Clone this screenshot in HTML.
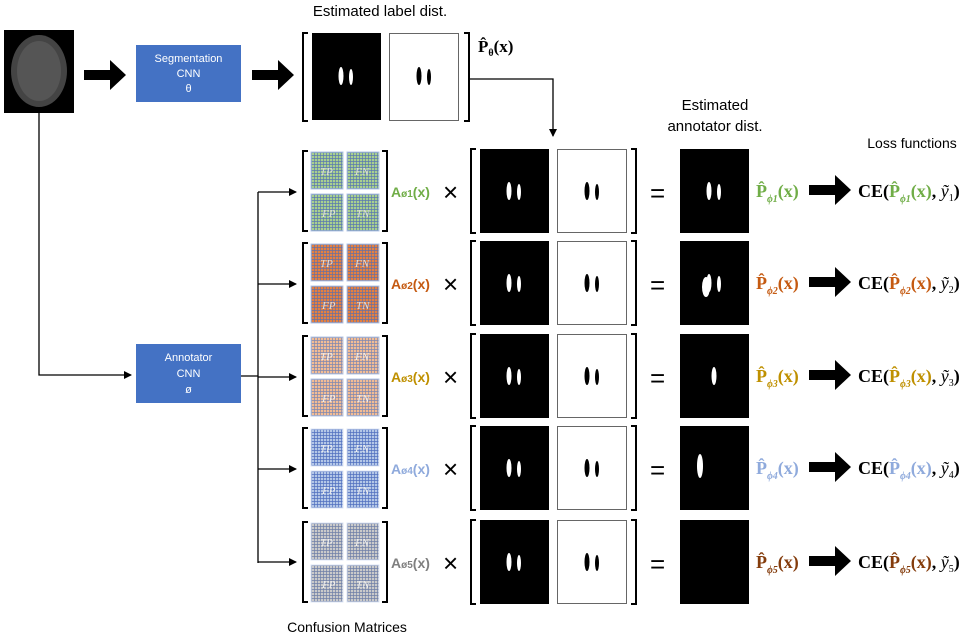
<!DOCTYPE html>
<html><head><meta charset="utf-8"><style>
body{margin:0;background:#fff;width:975px;height:640px;overflow:hidden}
svg{display:block}
.s{font-family:"Liberation Sans",sans-serif}
.r{font-family:"Liberation Serif",serif;font-weight:bold}
</style></head><body>
<svg width="975" height="640" viewBox="0 0 975 640">
<defs>
<pattern id="g1" width="3" height="3" patternUnits="userSpaceOnUse"><rect width="3" height="3" fill="#a9d08e"/><path d="M0 0.5H3M0.5 0V3" stroke="#5a7ab0" stroke-width="0.7"/></pattern>
<pattern id="g2" width="3" height="3" patternUnits="userSpaceOnUse"><rect width="3" height="3" fill="#e58040"/><path d="M0 0.5H3M0.5 0V3" stroke="#6a70a0" stroke-width="0.7"/></pattern>
<pattern id="g3" width="3" height="3" patternUnits="userSpaceOnUse"><rect width="3" height="3" fill="#f2bc94"/><path d="M0 0.5H3M0.5 0V3" stroke="#8088b0" stroke-width="0.7"/></pattern>
<pattern id="g4" width="3" height="3" patternUnits="userSpaceOnUse"><rect width="3" height="3" fill="#b4c7e7"/><path d="M0 0.5H3M0.5 0V3" stroke="#5070c0" stroke-width="0.7"/></pattern>
<pattern id="g5" width="3" height="3" patternUnits="userSpaceOnUse"><rect width="3" height="3" fill="#cacaca"/><path d="M0 0.5H3M0.5 0V3" stroke="#7080a8" stroke-width="0.7"/></pattern>
<marker id="ah" markerWidth="8" markerHeight="8" refX="7" refY="4" orient="auto" markerUnits="userSpaceOnUse"><path d="M0 0L8 4L0 8z" fill="#000"/></marker>
<g id="blobW"><ellipse cx="-5" cy="0" rx="2.5" ry="9" fill="#fff"/><ellipse cx="5" cy="1" rx="2" ry="8" fill="#fff"/></g>
<g id="blobB"><ellipse cx="-5" cy="0" rx="2.5" ry="9" fill="#000"/><ellipse cx="5" cy="1" rx="2" ry="8" fill="#000"/></g>
<g id="mat"><rect x="0" y="0" width="32" height="37"/><rect x="36" y="0" width="32" height="37"/><rect x="0" y="42" width="32" height="37"/><rect x="36" y="42" width="32" height="37"/></g>
<g id="arr"><path d="M0 -5h26v-10l16 15-16 15v-10h-26z" fill="#000"/></g>
</defs>

<!-- top -->
<rect x="4" y="30" width="70" height="83" fill="#000"/>
<ellipse cx="39" cy="71" rx="28" ry="36" fill="#444"/>
<ellipse cx="39" cy="71" rx="22" ry="30" fill="#555"/>
<use href="#arr" x="84" y="75"/>
<rect x="136" y="45" width="105" height="57" fill="#4472c4"/>
<text class="s" x="188.5" y="62" font-size="11" fill="#fff" text-anchor="middle">Segmentation</text>
<text class="s" x="188.5" y="77" font-size="11" fill="#fff" text-anchor="middle">CNN</text>
<text class="s" x="188.5" y="92" font-size="11" fill="#fff" text-anchor="middle">θ</text>
<use href="#arr" x="252" y="75"/>
<text class="s" x="380" y="16" font-size="15" text-anchor="middle">Estimated label dist.</text>
<path d="M308 33h-5v88h5M464 33h5v88h-5" fill="none" stroke="#000" stroke-width="2"/>
<rect x="312" y="33" width="69" height="87" fill="#000"/>
<use href="#blobW" x="346" y="76"/>
<rect x="389.5" y="33.5" width="69" height="87" fill="#fff" stroke="#666"/>
<use href="#blobB" x="424" y="76"/>
<text class="r" x="478" y="52" font-size="17">P̂<tspan font-size="10" dy="4">θ</tspan><tspan dy="-4">(x)</tspan></text>
<path d="M469 79H553V136" fill="none" stroke="#000" stroke-width="1.3" marker-end="url(#ah)"/>
<text class="s" x="715" y="110" font-size="15" text-anchor="middle">Estimated</text>
<text class="s" x="715" y="131" font-size="15" text-anchor="middle">annotator dist.</text>
<text class="s" x="912" y="148" font-size="14" text-anchor="middle">Loss functions</text>

<!-- connectors -->
<path d="M39 113V375H131" fill="none" stroke="#000" stroke-width="1.3" marker-end="url(#ah)"/>
<rect x="136" y="344" width="105" height="59" fill="#4472c4"/>
<text class="s" x="188.5" y="361" font-size="11" fill="#fff" text-anchor="middle">Annotator</text>
<text class="s" x="188.5" y="377" font-size="11" fill="#fff" text-anchor="middle">CNN</text>
<text class="s" x="188.5" y="393" font-size="11" fill="#fff" text-anchor="middle">ø</text>
<path d="M241 376H258M258 192V563" fill="none" stroke="#000" stroke-width="1.3"/>
<g fill="none" stroke="#000" stroke-width="1.3" marker-end="url(#ah)">
<path d="M258 192H296"/><path d="M258 284H296"/><path d="M258 377H296"/><path d="M258 469H296"/><path d="M258 562H296"/>
</g>
<text class="s" x="347" y="632" font-size="14" text-anchor="middle">Confusion Matrices</text>

<!-- rows -->
<g transform="translate(0,149)">
<path d="M308 2h-5v80h5M382 2h5v80h-5" fill="none" stroke="#000" stroke-width="2"/>
<g transform="translate(311,3)" fill="url(#g1)" stroke="#b4c7e7" stroke-width="1"><use href="#mat"/></g>
<g font-family="Liberation Serif,serif" font-style="italic" font-size="11" fill="#ddd"><text x="320" y="26">TP</text><text x="355" y="26">FN</text><text x="322" y="68">FP</text><text x="356" y="68">TN</text></g>
<text class="s" x="391" y="48" font-size="14" font-weight="bold" fill="#70ad47">A<tspan font-size="10">ø1</tspan>(x)</text>
<text class="s" x="443" y="52" font-size="26">×</text>
<path d="M476 0h-5v84h5M631 0h5v84h-5" fill="none" stroke="#000" stroke-width="2"/>
<rect x="480" y="0" width="69" height="84" fill="#000"/><use href="#blobW" x="514" y="42"/>
<rect x="557.5" y="0.5" width="69" height="83" fill="#fff" stroke="#666"/><use href="#blobB" x="592" y="42"/>
<text class="s" x="650" y="53" font-size="26">=</text>
<rect x="680" y="0" width="69" height="84" fill="#000"/><use href="#blobW" x="714" y="42"/>
<text class="r" x="756" y="48" font-size="18" fill="#70ad47">P̂<tspan font-size="10" font-style="italic" dy="5">ϕ1</tspan><tspan dy="-5">(x)</tspan></text>
<use href="#arr" x="809" y="41"/>
<text class="r" x="858" y="48" font-size="18">CE(<tspan fill="#70ad47">P̂<tspan font-size="10" font-style="italic" dy="5">ϕ1</tspan><tspan dy="-5">(x)</tspan></tspan>, <tspan font-style="italic" font-weight="normal">ỹ</tspan><tspan font-size="10" font-weight="normal" dy="4">1</tspan><tspan dy="-4">)</tspan></text>
</g>

<g transform="translate(0,241)">
<path d="M308 2h-5v80h5M382 2h5v80h-5" fill="none" stroke="#000" stroke-width="2"/>
<g transform="translate(311,3)" fill="url(#g2)" stroke="#b4c7e7" stroke-width="1"><use href="#mat"/></g>
<g font-family="Liberation Serif,serif" font-style="italic" font-size="11" fill="#ddd"><text x="320" y="26">TP</text><text x="355" y="26">FN</text><text x="322" y="68">FP</text><text x="356" y="68">TN</text></g>
<text class="s" x="391" y="48" font-size="14" font-weight="bold" fill="#c55a11">A<tspan font-size="10">ø2</tspan>(x)</text>
<text class="s" x="443" y="52" font-size="26">×</text>
<path d="M476 0h-5v84h5M631 0h5v84h-5" fill="none" stroke="#000" stroke-width="2"/>
<rect x="480" y="0" width="69" height="84" fill="#000"/><use href="#blobW" x="514" y="42"/>
<rect x="557.5" y="0.5" width="69" height="83" fill="#fff" stroke="#666"/><use href="#blobB" x="592" y="42"/>
<text class="s" x="650" y="53" font-size="26">=</text>
<rect x="680" y="0" width="69" height="84" fill="#000"/><use href="#blobW" x="714" y="42"/><ellipse cx="706" cy="46" rx="4" ry="10" fill="#fff"/>
<text class="r" x="756" y="48" font-size="18" fill="#c55a11">P̂<tspan font-size="10" font-style="italic" dy="5">ϕ2</tspan><tspan dy="-5">(x)</tspan></text>
<use href="#arr" x="809" y="41"/>
<text class="r" x="858" y="48" font-size="18">CE(<tspan fill="#c55a11">P̂<tspan font-size="10" font-style="italic" dy="5">ϕ2</tspan><tspan dy="-5">(x)</tspan></tspan>, <tspan font-style="italic" font-weight="normal">ỹ</tspan><tspan font-size="10" font-weight="normal" dy="4">2</tspan><tspan dy="-4">)</tspan></text>
</g>

<g transform="translate(0,334)">
<path d="M308 2h-5v80h5M382 2h5v80h-5" fill="none" stroke="#000" stroke-width="2"/>
<g transform="translate(311,3)" fill="url(#g3)" stroke="#b4c7e7" stroke-width="1"><use href="#mat"/></g>
<g font-family="Liberation Serif,serif" font-style="italic" font-size="11" fill="#eee"><text x="320" y="26">TP</text><text x="355" y="26">FN</text><text x="322" y="68">FP</text><text x="356" y="68">TN</text></g>
<text class="s" x="391" y="48" font-size="14" font-weight="bold" fill="#bf9000">A<tspan font-size="10">ø3</tspan>(x)</text>
<text class="s" x="443" y="52" font-size="26">×</text>
<path d="M476 0h-5v84h5M631 0h5v84h-5" fill="none" stroke="#000" stroke-width="2"/>
<rect x="480" y="0" width="69" height="84" fill="#000"/><use href="#blobW" x="514" y="42"/>
<rect x="557.5" y="0.5" width="69" height="83" fill="#fff" stroke="#666"/><use href="#blobB" x="592" y="42"/>
<text class="s" x="650" y="53" font-size="26">=</text>
<rect x="680" y="0" width="69" height="84" fill="#000"/><ellipse cx="714" cy="42" rx="2.5" ry="9" fill="#fff"/>
<text class="r" x="756" y="48" font-size="18" fill="#bf9000">P̂<tspan font-size="10" font-style="italic" dy="5">ϕ3</tspan><tspan dy="-5">(x)</tspan></text>
<use href="#arr" x="809" y="41"/>
<text class="r" x="858" y="48" font-size="18">CE(<tspan fill="#bf9000">P̂<tspan font-size="10" font-style="italic" dy="5">ϕ3</tspan><tspan dy="-5">(x)</tspan></tspan>, <tspan font-style="italic" font-weight="normal">ỹ</tspan><tspan font-size="10" font-weight="normal" dy="4">3</tspan><tspan dy="-4">)</tspan></text>
</g>

<g transform="translate(0,426)">
<path d="M308 2h-5v80h5M382 2h5v80h-5" fill="none" stroke="#000" stroke-width="2"/>
<g transform="translate(311,3)" fill="url(#g4)" stroke="#dde6f5" stroke-width="1"><use href="#mat"/></g>
<g font-family="Liberation Serif,serif" font-style="italic" font-size="11" fill="#eee"><text x="320" y="26">TP</text><text x="355" y="26">FN</text><text x="322" y="68">FP</text><text x="356" y="68">TN</text></g>
<text class="s" x="391" y="48" font-size="14" font-weight="bold" fill="#8faadc">A<tspan font-size="10">ø4</tspan>(x)</text>
<text class="s" x="443" y="52" font-size="26">×</text>
<path d="M476 0h-5v84h5M631 0h5v84h-5" fill="none" stroke="#000" stroke-width="2"/>
<rect x="480" y="0" width="69" height="84" fill="#000"/><use href="#blobW" x="514" y="42"/>
<rect x="557.5" y="0.5" width="69" height="83" fill="#fff" stroke="#666"/><use href="#blobB" x="592" y="42"/>
<text class="s" x="650" y="53" font-size="26">=</text>
<rect x="680" y="0" width="69" height="84" fill="#000"/><ellipse cx="700" cy="40" rx="3" ry="12" fill="#fff"/>
<text class="r" x="756" y="48" font-size="18" fill="#8faadc">P̂<tspan font-size="10" font-style="italic" dy="5">ϕ4</tspan><tspan dy="-5">(x)</tspan></text>
<use href="#arr" x="809" y="41"/>
<text class="r" x="858" y="48" font-size="18">CE(<tspan fill="#8faadc">P̂<tspan font-size="10" font-style="italic" dy="5">ϕ4</tspan><tspan dy="-5">(x)</tspan></tspan>, <tspan font-style="italic" font-weight="normal">ỹ</tspan><tspan font-size="10" font-weight="normal" dy="4">4</tspan><tspan dy="-4">)</tspan></text>
</g>

<g transform="translate(0,520)">
<path d="M308 2h-5v80h5M382 2h5v80h-5" fill="none" stroke="#000" stroke-width="2"/>
<g transform="translate(311,3)" fill="url(#g5)" stroke="#dde6f5" stroke-width="1"><use href="#mat"/></g>
<g font-family="Liberation Serif,serif" font-style="italic" font-size="11" fill="#eee"><text x="320" y="26">TP</text><text x="355" y="26">FN</text><text x="322" y="68">FP</text><text x="356" y="68">TN</text></g>
<text class="s" x="391" y="48" font-size="14" font-weight="bold" fill="#7f7f7f">A<tspan font-size="10">ø5</tspan>(x)</text>
<text class="s" x="443" y="52" font-size="26">×</text>
<path d="M476 0h-5v84h5M631 0h5v84h-5" fill="none" stroke="#000" stroke-width="2"/>
<rect x="480" y="0" width="69" height="84" fill="#000"/><use href="#blobW" x="514" y="42"/>
<rect x="557.5" y="0.5" width="69" height="83" fill="#fff" stroke="#666"/><use href="#blobB" x="592" y="42"/>
<text class="s" x="650" y="53" font-size="26">=</text>
<rect x="680" y="0" width="69" height="84" fill="#000"/>
<text class="r" x="756" y="48" font-size="18" fill="#843c0c">P̂<tspan font-size="10" font-style="italic" dy="5">ϕ5</tspan><tspan dy="-5">(x)</tspan></text>
<use href="#arr" x="809" y="41"/>
<text class="r" x="858" y="48" font-size="18">CE(<tspan fill="#843c0c">P̂<tspan font-size="10" font-style="italic" dy="5">ϕ5</tspan><tspan dy="-5">(x)</tspan></tspan>, <tspan font-style="italic" font-weight="normal">ỹ</tspan><tspan font-size="10" font-weight="normal" dy="4">5</tspan><tspan dy="-4">)</tspan></text>
</g>
</svg>
</body></html>
